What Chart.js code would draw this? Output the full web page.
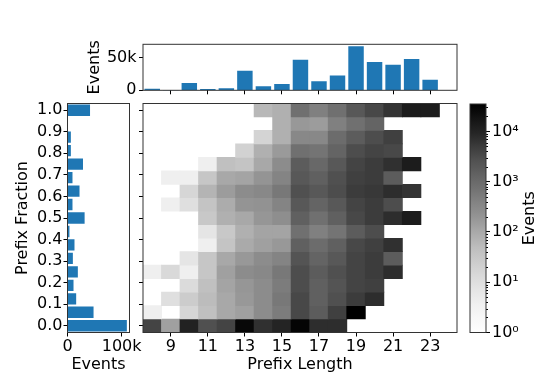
<!DOCTYPE html>
<html>
<head>
<meta charset="utf-8">
<script src="https://cdn.jsdelivr.net/npm/chart.js@4.4.1/dist/chart.umd.min.js"></script>
<style>
html, body { margin: 0; padding: 0; background: #fff; }
#wrap { position: relative; width: 540px; height: 374px; }
canvas { position: absolute; left: 0; top: 0; }
</style>
</head>
<body>
<div id="wrap">
  <canvas id="sideHist" width="540" height="374"></canvas>
  <canvas id="topHist" width="540" height="374"></canvas>
  <canvas id="heat" width="540" height="374"></canvas>
  <canvas id="colorBar" width="540" height="374"></canvas>
</div>
<script>
// prefix length columns and prefix fraction rows of the 2d histogram
const prefixLengths = [8, 9, 10, 11, 12, 13, 14, 15, 16, 17, 18, 19, 20, 21, 22, 23];
const fractionBins = [0, 0.0625, 0.125, 0.1875, 0.25, 0.3125, 0.375, 0.4375, 0.5,
  0.5625, 0.625, 0.6875, 0.75, 0.8125, 0.875, 0.9375, 1];

// marginal totals
const eventsByLength = [2000, 0, 10800, 1500, 2600, 29400, 5700, 9300, 46400, 13400, 22200, 67000, 42800, 38700, 47400, 15500];
const eventsByFraction = [109000, 47500, 15400, 10500, 18500, 9300, 12300, 3000, 31000, 8600, 21600, 8600, 28000, 5600, 5600, 0, 41000];

// one row per fraction bin (bottom to top), one value per prefix length
const eventCounts = [
  [3800, 133, 10400, 2700, 3800, 26000, 6800, 9700, 30000, 7600, 7600, 0, 0, 0, 0, 0],
  [4, 0, 16, 44, 102, 133, 270, 490, 3400, 1710, 4300, 35000, 0, 0, 0, 0],
  [0, 10, 25, 52, 102, 174, 270, 570, 3400, 1460, 2700, 4800, 7600, 0, 0, 0],
  [0, 0, 12, 44, 116, 187, 270, 490, 3000, 1460, 2340, 3800, 4300, 0, 0, 0],
  [4, 14, 4, 33, 133, 270, 315, 570, 3000, 1710, 2700, 3800, 4800, 7600, 0, 0],
  [0, 0, 7, 33, 102, 174, 270, 365, 2340, 1250, 2000, 3800, 4800, 1710, 0, 0],
  [0, 0, 0, 4, 36, 95, 133, 174, 1460, 910, 1460, 3400, 4300, 6800, 0, 0],
  [0, 0, 0, 7, 30, 78, 116, 116, 770, 425, 660, 1710, 3000, 0, 0, 0],
  [0, 0, 0, 30, 78, 102, 187, 250, 1460, 770, 1460, 3400, 4800, 7600, 12900, 0],
  [0, 4, 10, 36, 89, 200, 215, 365, 2000, 1250, 2000, 3800, 4800, 3000, 0, 0],
  [0, 0, 16, 68, 152, 270, 315, 570, 2700, 2000, 3000, 4800, 5400, 7600, 6100, 0],
  [0, 4, 4, 33, 102, 116, 200, 365, 2000, 1460, 2700, 4300, 4800, 1710, 0, 0],
  [0, 0, 0, 4, 44, 36, 102, 270, 1710, 1070, 2000, 3800, 4800, 6800, 12900, 0],
  [0, 0, 0, 0, 0, 19, 78, 163, 770, 660, 1250, 3000, 3800, 3400, 0, 0],
  [0, 0, 0, 0, 0, 0, 17, 78, 315, 315, 910, 1710, 3000, 4300, 0, 0],
  [0, 0, 0, 0, 0, 0, 0, 78, 174, 152, 425, 770, 1250, 0, 0, 0],
  [0, 0, 0, 0, 0, 0, 60, 78, 770, 425, 770, 2000, 3400, 6100, 12900, 12900]
];

// ticks
const lengthTicks = [9, 11, 13, 15, 17, 19, 21, 23];
const fractionTicks = [0, 0.1, 0.2, 0.3, 0.4, 0.5, 0.6, 0.7, 0.8, 0.9, 1.0];
const lengthHistTicks = [0, 50000];
const fractionHistTicks = [0, 100000];
const colorTicks = [1, 10, 100, 1000, 10000];
const colorMinorTicks = [2, 3, 4, 5, 6, 7, 8, 9, 20, 30, 40, 50, 60, 70, 80, 90,
  200, 300, 400, 500, 600, 700, 800, 900, 2000, 3000, 4000, 5000, 6000, 7000, 8000, 9000, 20000, 30000];
const colorMax = 35000;

Chart.defaults.font.family = "'DejaVu Sans', sans-serif";
Chart.defaults.font.size = 16;
Chart.defaults.color = '#000';
Chart.defaults.animation = false;
Chart.defaults.responsive = false;
Chart.defaults.plugins.legend.display = false;
Chart.defaults.plugins.tooltip.enabled = false;

const BLUE = '#1f77b4';
const greyStops = [255, 240, 217, 189, 150, 115, 82, 37, 0]; // matplotlib Greys

function greyAt(t) {
  t = Math.max(0, Math.min(1, t));
  const p = t * (greyStops.length - 1);
  const i = Math.min(Math.floor(p), greyStops.length - 2);
  const g = Math.round(greyStops[i] + (greyStops[i + 1] - greyStops[i]) * (p - i));
  return 'rgb(' + g + ',' + g + ',' + g + ')';
}
function cellColor(n) {
  return greyAt(Math.log10(n) / Math.log10(colorMax));
}

const fit = n => s => { if (s.isHorizontal()) s.height = n; else s.width = n; };
const setTicks = vals => s => { s.ticks = vals.map(v => ({ value: v })); };
const tickGrid = { drawOnChartArea: false, drawTicks: true, tickLength: 4, tickColor: '#000', tickWidth: 1, offset: false };
const kLabel = v => v === 0 ? '0' : (v / 1000) + 'k';

const frame = {
  id: 'frame',
  afterDraw(chart) {
    const a = chart.chartArea, c = chart.ctx;
    c.save();
    c.strokeStyle = '#333';
    c.lineWidth = 1;
    c.strokeRect(a.left, a.top, a.right - a.left, a.bottom - a.top);
    c.restore();
  }
};

const binHalf = (fractionBins[1] - fractionBins[0]) / 2;
const xMin = 7.5, xMax = 24.45;
const yMin = -binHalf, yMax = 1 + binHalf;

// ---------- heatmap ----------
const cells = [];
fractionBins.forEach((f, k) => {
  prefixLengths.forEach((len, i) => {
    const n = eventCounts[k][i];
    if (n > 0) cells.push({ x: len, y: [f - binHalf, f + binHalf], n: n });
  });
});

new Chart(document.getElementById('heat'), {
  type: 'bar',
  data: {
    datasets: [{
      data: cells,
      backgroundColor: c => cellColor(c.raw.n),
      borderWidth: 0,
      barThickness: 18.7
    }]
  },
  options: {
    layout: { padding: { left: 137, right: 83, top: 103.5, bottom: 0 } },
    scales: {
      x: {
        type: 'linear', min: xMin, max: xMax, offset: false,
        afterBuildTicks: setTicks(lengthTicks), afterFit: fit(41.5),
        grid: tickGrid, border: { display: false },
        ticks: { padding: 1, maxRotation: 0, autoSkip: false },
        title: { display: true, text: 'Prefix Length', padding: 0 }
      },
      y: {
        type: 'linear', min: yMin, max: yMax, offset: false,
        afterBuildTicks: setTicks(fractionTicks), afterFit: fit(6),
        grid: tickGrid, border: { display: false },
        ticks: { display: false, autoSkip: false }
      }
    }
  },
  plugins: [frame]
});

// ---------- top histogram (events by prefix length) ----------
new Chart(document.getElementById('topHist'), {
  type: 'bar',
  data: {
    datasets: [{
      data: prefixLengths.map((len, i) => ({ x: len, y: eventsByLength[i] })),
      backgroundColor: BLUE,
      barThickness: 14.8
    }]
  },
  options: {
    layout: { padding: { left: 0, right: 83, top: 44.3, bottom: 374 - 90.3 - 5 } },
    scales: {
      x: {
        type: 'linear', min: xMin, max: xMax, offset: false,
        afterBuildTicks: setTicks(lengthTicks), afterFit: fit(5),
        grid: tickGrid, border: { display: false },
        ticks: { display: false, autoSkip: false }
      },
      y: {
        type: 'linear', min: 0, max: 70500,
        afterBuildTicks: setTicks(lengthHistTicks), afterFit: fit(143),
        grid: tickGrid, border: { display: false },
        ticks: { padding: 2.5, callback: kLabel, autoSkip: false },
        title: { display: true, text: 'Events', padding: { top: 85, bottom: 0 } }
      }
    }
  },
  plugins: [frame]
});

// ---------- side histogram (events by prefix fraction) ----------
new Chart(document.getElementById('sideHist'), {
  type: 'bar',
  data: {
    datasets: [{
      data: fractionBins.map((f, k) => ({ x: eventsByFraction[k], y: f })),
      backgroundColor: BLUE,
      barThickness: 10.7
    }]
  },
  options: {
    indexAxis: 'y',
    layout: { padding: { left: 0, right: 540 - 129.5, top: 103.5, bottom: 0 } },
    scales: {
      x: {
        type: 'linear', min: 0, max: 114500,
        afterBuildTicks: setTicks(fractionHistTicks), afterFit: fit(41.5),
        grid: tickGrid, border: { display: false },
        ticks: { padding: 1, maxRotation: 0, autoSkip: false, callback: kLabel },
        title: { display: true, text: 'Events', padding: 0 }
      },
      y: {
        type: 'linear', min: yMin, max: yMax, offset: false,
        afterBuildTicks: setTicks(fractionTicks), afterFit: fit(67.5),
        grid: tickGrid, border: { display: false },
        ticks: { padding: 1, autoSkip: false, callback: v => v.toFixed(1) },
        title: { display: true, text: 'Prefix Fraction', padding: { top: 13, bottom: 0 } }
      }
    }
  },
  plugins: [frame]
});

// ---------- colour bar ----------
const colorBarArt = {
  id: 'colorBarArt',
  beforeDatasetsDraw(chart) {
    const a = chart.chartArea, c = chart.ctx;
    const g = c.createLinearGradient(0, a.bottom, 0, a.top);
    for (let i = 0; i <= 32; i++) g.addColorStop(i / 32, greyAt(i / 32));
    c.save();
    c.fillStyle = g;
    c.fillRect(a.left, a.top, a.right - a.left, a.bottom - a.top);
    c.restore();
  },
  afterDraw(chart) {
    const a = chart.chartArea, c = chart.ctx, s = chart.scales.y;
    c.save();
    c.strokeStyle = '#000';
    c.lineWidth = 1;
    colorMinorTicks.forEach(v => {
      const y = Math.round(s.getPixelForValue(v)) + 0.5;
      c.beginPath();
      c.moveTo(a.right, y);
      c.lineTo(a.right + 2, y);
      c.stroke();
    });
    c.translate(529.5, (a.top + a.bottom) / 2);
    c.rotate(-Math.PI / 2);
    c.font = "16px 'DejaVu Sans', sans-serif";
    c.fillStyle = '#000';
    c.textAlign = 'center';
    c.textBaseline = 'middle';
    c.fillText('Events', 0, 0);
    c.restore();
  }
};
const sup = ['\u2070', '\u00b9', '\u00b2', '\u00b3', '\u2074'];

new Chart(document.getElementById('colorBar'), {
  type: 'bar',
  data: { datasets: [] },
  options: {
    layout: { padding: { left: 470, right: 0, top: 104, bottom: 374 - 332.5 } },
    scales: {
      x: { display: false },
      y: {
        type: 'logarithmic', position: 'right', min: 1, max: colorMax,
        afterBuildTicks: setTicks(colorTicks), afterFit: fit(54),
        grid: tickGrid, border: { display: false },
        ticks: { padding: 2, autoSkip: false, callback: v => '10' + sup[Math.round(Math.log10(v))] }
      }
    }
  },
  plugins: [colorBarArt, frame]
});
</script>
</body>
</html>
